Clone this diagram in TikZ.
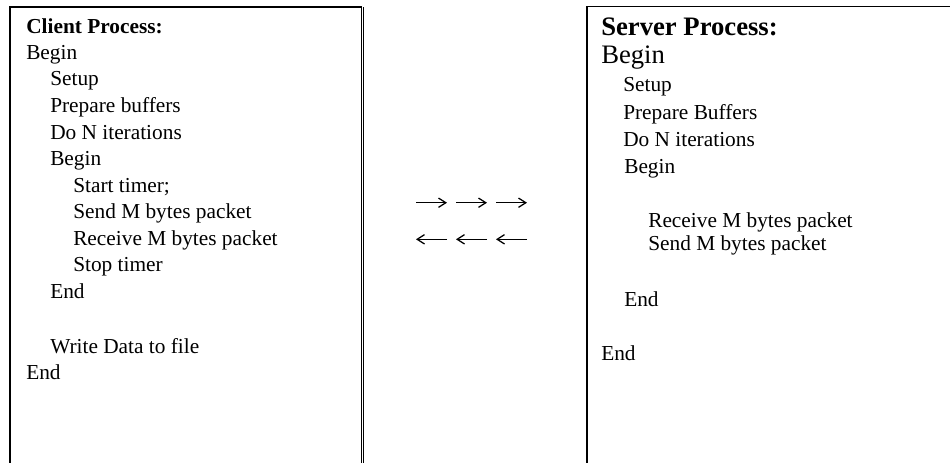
\documentclass[tikz,border=0pt]{standalone}
\usepackage{fontspec}
\setmainfont{Liberation Serif}
\usetikzlibrary{arrows.meta}
\begin{document}
\begin{tikzpicture}[x=0.75pt,y=-0.75pt,
  txt/.style={anchor=base west, inner sep=0pt, font=\fontsize{16}{19}\selectfont},
  bigtxt/.style={anchor=base west, inner sep=0pt, font=\fontsize{20}{24}\selectfont},
  frame/.style={line width=0.8pt, line cap=rect},
  arr/.style={line width=0.95pt, -{Straight Barb[length=5.5pt,width=7pt,line width=0.95pt]}}]
\useasboundingbox (0,0) rectangle (950,462);
% client frame
\draw[frame] (10,470) -- (10,7) -- (361.5,7) -- (361.5,470);
\draw[frame] (363.5,7.4) -- (363.5,470);
% server frame
\draw[frame] (587,470) -- (587,6.5) -- (960,6.5);
% client text
\node[txt] (c0) at (26,33.3) {\textbf{Client Process:}};
\node[txt] (c1) at (26,59.3) {Begin};
\node[txt] (c2) at (50,85.9) {Setup};
\node[txt] (c3) at (50,112.5) {Prepare buffers};
\node[txt] (c4) at (50,139.1) {Do N iterations};
\node[txt] (c5) at (50,165.5) {Begin};
\node[txt] (c6) at (73,192) {Start timer;};
\node[txt] (c7) at (73,218.5) {Send M bytes packet};
\node[txt] (c8) at (73,245.2) {Receive M bytes packet};
\node[txt] (c9) at (73,271.8) {Stop timer};
\node[txt] (c10) at (50,298.4) {End};
\node[txt] (c11) at (50,353) {Write Data to file};
\node[txt] (c12) at (26,379.3) {End};
% server text
\node[bigtxt] (s0) at (601,35) {\textbf{Server Process:}};
\node[bigtxt] (s1) at (601,63) {Begin};
\node[txt] (s2) at (623,91) {Setup};
\node[txt] (s3) at (623,119) {Prepare Buffers};
\node[txt] (s4) at (623,146.5) {Do N iterations};
\node[txt] (s5) at (624,173) {Begin};
\node[txt] (s6) at (648,227) {Receive M bytes packet};
\node[txt] (s7) at (648,250.7) {Send M bytes packet};
\node[txt] (s8) at (624,306.7) {End};
\node[txt] (s9) at (601,360) {End};
% arrows
\coordinate (r1a) at (416,202.7); \coordinate (r1b) at (447,202.7);
\coordinate (r2a) at (456,202.7); \coordinate (r2b) at (487,202.7);
\coordinate (r3a) at (496,202.7); \coordinate (r3b) at (527,202.7);
\coordinate (l1a) at (447,239.3); \coordinate (l1b) at (416,239.3);
\coordinate (l2a) at (487,239.3); \coordinate (l2b) at (456,239.3);
\coordinate (l3a) at (527,239.3); \coordinate (l3b) at (496,239.3);
\draw[arr] (r1a) -- (r1b);
\draw[arr] (r2a) -- (r2b);
\draw[arr] (r3a) -- (r3b);
\draw[arr] (l1a) -- (l1b);
\draw[arr] (l2a) -- (l2b);
\draw[arr] (l3a) -- (l3b);
\end{tikzpicture}
\end{document}
